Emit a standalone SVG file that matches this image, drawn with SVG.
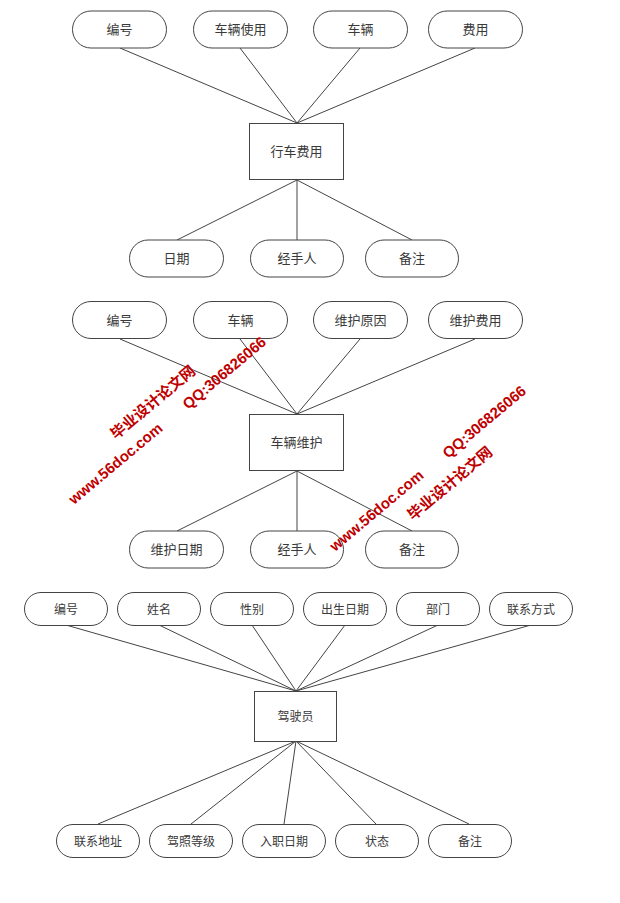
<svg xmlns="http://www.w3.org/2000/svg" width="620" height="903" viewBox="0 0 620 903">
<style>
.a{fill:#fff;stroke:#444;stroke-width:1}
.t{font-family:"Noto Sans CJK SC","Liberation Sans",sans-serif;font-size:13px;fill:#3a3a3a;text-anchor:middle;dominant-baseline:central}
.t2{font-size:12px}
.c line{stroke:#444;stroke-width:1}
.w{font-family:"Liberation Sans","Noto Sans CJK SC",sans-serif;font-weight:bold;fill:#c00000;font-size:15px}
</style>
<rect width="620" height="903" fill="#fff"/>
<g class="c">
<line x1="120" y1="48" x2="297" y2="123"/><line x1="240" y1="48" x2="297" y2="123"/><line x1="360" y1="48" x2="297" y2="123"/><line x1="475" y1="48" x2="297" y2="123"/>
<line x1="297" y1="180" x2="177" y2="240"/><line x1="297" y1="180" x2="297" y2="240"/><line x1="297" y1="180" x2="412" y2="240"/>
<line x1="120" y1="339" x2="297" y2="414"/><line x1="240" y1="339" x2="297" y2="414"/><line x1="360" y1="339" x2="297" y2="414"/><line x1="475" y1="339" x2="297" y2="414"/>
<line x1="297" y1="471" x2="177" y2="531"/><line x1="297" y1="471" x2="297" y2="531"/><line x1="297" y1="471" x2="412" y2="531"/>
<line x1="66" y1="625" x2="296" y2="691"/><line x1="159" y1="625" x2="296" y2="691"/><line x1="252" y1="625" x2="296" y2="691"/><line x1="345" y1="625" x2="296" y2="691"/><line x1="438" y1="625" x2="296" y2="691"/><line x1="531" y1="625" x2="296" y2="691"/>
<line x1="296" y1="741" x2="98" y2="824"/><line x1="296" y1="741" x2="191" y2="824"/><line x1="296" y1="741" x2="284" y2="824"/><line x1="296" y1="741" x2="376" y2="824"/><line x1="296" y1="741" x2="469" y2="824"/>
</g>
<!-- section 1 -->
<g id="n1"><rect class="a" x="72.5" y="11" width="94" height="37" rx="18.5"/><text class="t" x="119.5" y="28.5">编号</text></g>
<g id="n2"><rect class="a" x="193.5" y="11" width="94" height="37" rx="18.5"/><text class="t" x="240.5" y="28.5">车辆使用</text></g>
<g id="n3"><rect class="a" x="313.5" y="11" width="94" height="37" rx="18.5"/><text class="t" x="360.5" y="28.5">车辆</text></g>
<g id="n4"><rect class="a" x="428.5" y="11" width="94" height="37" rx="18.5"/><text class="t" x="475.5" y="28.5">费用</text></g>
<g id="e1"><rect class="a" x="249.5" y="123.5" width="94" height="56"/><text class="t" x="296.5" y="150.5">行车费用</text></g>
<g id="n5"><rect class="a" x="129.5" y="240" width="94" height="37" rx="18.5"/><text class="t" x="176.5" y="257.5">日期</text></g>
<g id="n6"><rect class="a" x="250.5" y="240" width="93" height="37" rx="18.5"/><text class="t" x="297" y="257.5">经手人</text></g>
<g id="n7"><rect class="a" x="365.5" y="240" width="93" height="37" rx="18.5"/><text class="t" x="412" y="257.5">备注</text></g>
<!-- section 2 -->
<g id="m1"><rect class="a" x="72.5" y="301.5" width="94" height="37" rx="18.5"/><text class="t" x="119.5" y="319">编号</text></g>
<g id="m2"><rect class="a" x="193.5" y="301.5" width="94" height="37" rx="18.5"/><text class="t" x="240.5" y="319">车辆</text></g>
<g id="m3"><rect class="a" x="313.5" y="301.5" width="94" height="37" rx="18.5"/><text class="t" x="360.5" y="319">维护原因</text></g>
<g id="m4"><rect class="a" x="428.5" y="301.5" width="94" height="37" rx="18.5"/><text class="t" x="475.5" y="319">维护费用</text></g>
<g id="e2"><rect class="a" x="249.5" y="414.5" width="94" height="56"/><text class="t" x="296.5" y="441.5">车辆维护</text></g>
<g id="m5"><rect class="a" x="129.5" y="531" width="94" height="37" rx="18.5"/><text class="t" x="176.5" y="548.5">维护日期</text></g>
<g id="m6"><rect class="a" x="250.5" y="531" width="93" height="37" rx="18.5"/><text class="t" x="297" y="548.5">经手人</text></g>
<g id="m7"><rect class="a" x="365.5" y="531" width="93" height="37" rx="18.5"/><text class="t" x="412" y="548.5">备注</text></g>
<!-- section 3 -->
<g id="d1"><rect class="a" x="24.5" y="592.5" width="83" height="33" rx="16.5"/><text class="t t2" x="66" y="608">编号</text></g>
<g id="d2"><rect class="a" x="117.5" y="592.5" width="83" height="33" rx="16.5"/><text class="t t2" x="159" y="608">姓名</text></g>
<g id="d3"><rect class="a" x="210.5" y="592.5" width="83" height="33" rx="16.5"/><text class="t t2" x="252" y="608">性别</text></g>
<g id="d4"><rect class="a" x="303.5" y="592.5" width="83" height="33" rx="16.5"/><text class="t t2" x="345" y="608">出生日期</text></g>
<g id="d5"><rect class="a" x="396.5" y="592.5" width="83" height="33" rx="16.5"/><text class="t t2" x="438" y="608">部门</text></g>
<g id="d6"><rect class="a" x="489.5" y="592.5" width="83" height="33" rx="16.5"/><text class="t t2" x="531" y="608">联系方式</text></g>
<g id="e3"><rect class="a" x="254.5" y="691.5" width="82" height="50"/><text class="t t2" x="295.5" y="715">驾驶员</text></g>
<g id="d7"><rect class="a" x="56.5" y="824.5" width="83" height="33" rx="16.5"/><text class="t t2" x="98" y="840">联系地址</text></g>
<g id="d8"><rect class="a" x="149.5" y="824.5" width="83" height="33" rx="16.5"/><text class="t t2" x="191" y="840">驾照等级</text></g>
<g id="d9"><rect class="a" x="242.5" y="824.5" width="83" height="33" rx="16.5"/><text class="t t2" x="284" y="840">入职日期</text></g>
<g id="d10"><rect class="a" x="335.5" y="824.5" width="83" height="33" rx="16.5"/><text class="t t2" x="377" y="840">状态</text></g>
<g id="d11"><rect class="a" x="428.5" y="824.5" width="83" height="33" rx="16.5"/><text class="t t2" x="470" y="840">备注</text></g>
<!-- watermark -->
<g id="watermark">
<text class="w" transform="translate(116,440) rotate(-40)" font-size="18">毕业设计论文网</text>
<text class="w" transform="translate(188,410) rotate(-40)">QQ:306826066</text>
<text class="w" transform="translate(74,505) rotate(-40)" font-size="17.5">www.56doc.com</text>
<text class="w" transform="translate(335,552) rotate(-40)" font-size="17.5">www.56doc.com</text>
<text class="w" transform="translate(448,459) rotate(-40)">QQ:306826066</text>
<text class="w" transform="translate(413,521) rotate(-40)" font-size="18">毕业设计论文网</text>
</g>
</svg>
